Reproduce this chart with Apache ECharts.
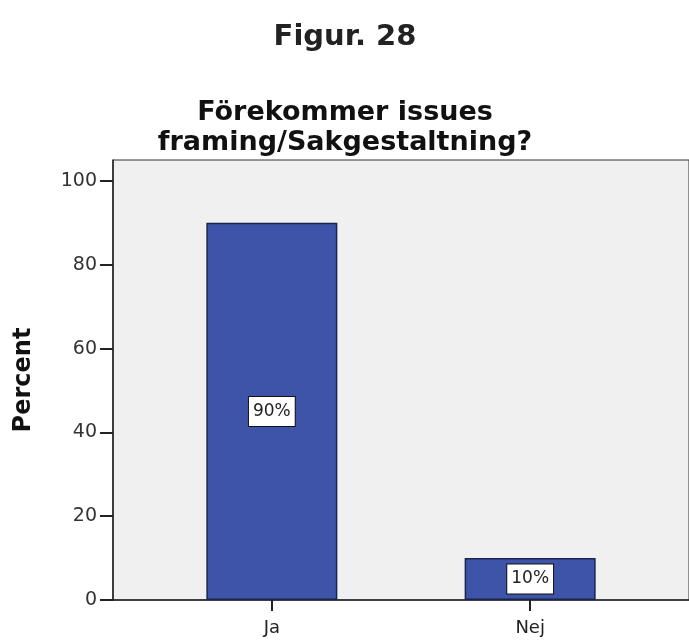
<!DOCTYPE html>
<html>
<head>
<meta charset="utf-8">
<script src="https://cdn.jsdelivr.net/npm/echarts@6/dist/echarts.min.js"></script>
<style>
  html, body { margin: 0; padding: 0; background: #ffffff; }
  #chart { width: 689px; height: 640px; }
</style>
</head>
<body>
<div id="chart"></div>
<script>
// Answer categories and their share in percent
const categories = ['Ja', 'Nej'];
const percentValues = [90, 10];
// Value-axis tick labels
const yTicks = [0, 20, 40, 60, 80, 100];

const FONT = '"DejaVu Sans", "Liberation Sans", sans-serif';
const catIndex = categories.map((_, i) => i);

const chart = echarts.init(document.getElementById('chart'), null, { renderer: 'canvas' });

chart.setOption({
  animation: false,
  backgroundColor: '#ffffff',
  title: [
    {
      text: 'Figur. 28',
      left: 340, top: 18, textAlign: 'center',
      textStyle: { fontFamily: FONT, fontSize: 29, fontWeight: 'bold', color: '#222' }
    },
    {
      text: 'Förekommer issues\nframing/Sakgestaltning?',
      left: 340, top: 93, textAlign: 'center',
      textStyle: { fontFamily: FONT, fontSize: 27, fontWeight: 'bold', color: '#111', lineHeight: 30 }
    }
  ],
  grid: {
    left: 113, top: 160, right: -4, bottom: 40,
    show: true, backgroundColor: '#f0f0f0', borderColor: '#333', borderWidth: 1,
    containLabel: false
  },
  xAxis: {
    type: 'value',
    min: -0.615, max: 1.615,
    splitLine: { show: false },
    axisLine: { show: true, onZero: false, lineStyle: { color: '#222', width: 1.5 } },
    axisTick: { show: true, customValues: catIndex, length: 11, lineStyle: { color: '#222', width: 2 } },
    axisLabel: {
      customValues: catIndex,
      formatter: v => categories[Math.round(v)] ?? '',
      fontFamily: FONT, fontSize: 18, color: '#222', margin: 19
    }
  },
  yAxis: {
    type: 'value',
    min: 0, max: 105,
    name: 'Percent',
    nameLocation: 'middle',
    nameGap: 77,
    nameRotate: 90,
    nameTextStyle: { fontFamily: FONT, fontSize: 24, fontWeight: 'bold', color: '#111' },
    splitLine: { show: false },
    axisLine: { show: true, onZero: false, lineStyle: { color: '#222', width: 1.5 } },
    axisTick: { show: true, customValues: yTicks, length: 13, lineStyle: { color: '#222', width: 2 } },
    axisLabel: { customValues: yTicks, fontFamily: FONT, fontSize: 19, color: '#333', margin: 16 }
  },
  series: [{
    type: 'bar',
    data: catIndex.map(i => [i, percentValues[i]]),
    barWidth: 131,
    itemStyle: { color: '#3e54a8', borderColor: '#1b2350', borderWidth: 1.5 },
    label: {
      show: true,
      position: 'inside',
      formatter: p => p.value[1] + '%',
      fontFamily: FONT, fontSize: 17, color: '#222',
      backgroundColor: '#ffffff', borderColor: '#111', borderWidth: 1,
      padding: [7, 4, 5, 4]
    }
  }]
});
</script>
</body>
</html>
